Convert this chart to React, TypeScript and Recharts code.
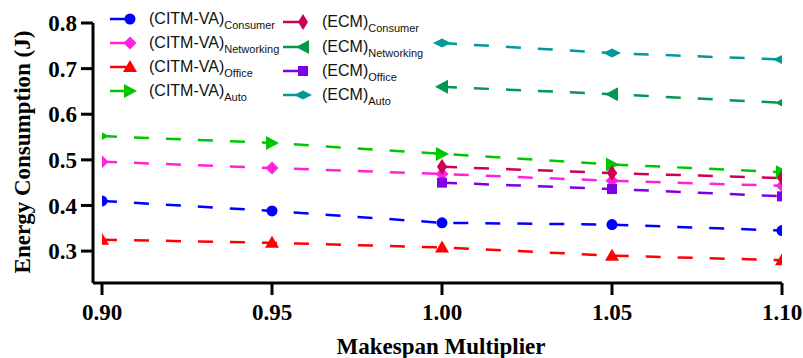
import React from 'react';
import { LineChart, Line, XAxis, YAxis, Legend, Label } from 'recharts';

const multipliers = [0.9, 0.95, 1.0, 1.05, 1.1];
const xTicks = [0.9, 0.95, 1.0, 1.05, 1.1];
const yTicks = [0.3, 0.4, 0.5, 0.6, 0.7, 0.8];

const citmConsumer = [0.41, 0.388, 0.362, 0.358, 0.345];
const citmNetworking = [0.496, 0.482, 0.469, 0.454, 0.443];
const citmOffice = [0.325, 0.318, 0.308, 0.29, 0.28];
const citmAuto = [0.552, 0.537, 0.513, 0.49, 0.473];
const ecmConsumer = [null, null, 0.485, 0.471, 0.46];
const ecmNetworking = [null, null, 0.66, 0.644, 0.625];
const ecmOffice = [null, null, 0.45, 0.436, 0.42];
const ecmAuto = [null, null, 0.756, 0.734, 0.72];

type Shape = 'circle' | 'diamond' | 'triUp' | 'triRight' | 'thinDiamond' | 'triLeft' | 'square' | 'wideDiamond';

interface Series {
  key: string;
  method: string;
  sub: string;
  color: string;
  shape: Shape;
  values: (number | null)[];
}

const series: Series[] = [
  { key: 'citmConsumer', method: '(CITM-VA)', sub: 'Consumer', color: '#0000ff', shape: 'circle', values: citmConsumer },
  { key: 'citmNetworking', method: '(CITM-VA)', sub: 'Networking', color: '#ff22dd', shape: 'diamond', values: citmNetworking },
  { key: 'citmOffice', method: '(CITM-VA)', sub: 'Office', color: '#ff0000', shape: 'triUp', values: citmOffice },
  { key: 'citmAuto', method: '(CITM-VA)', sub: 'Auto', color: '#00c800', shape: 'triRight', values: citmAuto },
  { key: 'ecmConsumer', method: '(ECM)', sub: 'Consumer', color: '#cc0055', shape: 'thinDiamond', values: ecmConsumer },
  { key: 'ecmNetworking', method: '(ECM)', sub: 'Networking', color: '#009950', shape: 'triLeft', values: ecmNetworking },
  { key: 'ecmOffice', method: '(ECM)', sub: 'Office', color: '#7f00e6', shape: 'square', values: ecmOffice },
  { key: 'ecmAuto', method: '(ECM)', sub: 'Auto', color: '#009999', shape: 'wideDiamond', values: ecmAuto },
];

const chartData = multipliers.map((m, i) => {
  const row: Record<string, number | null> = { x: m };
  series.forEach((s) => {
    row[s.key] = s.values[i];
  });
  return row;
});

function marker(shape: Shape, cx: number, cy: number, color: string, key?: string) {
  const pts = (arr: number[][]) => arr.map((p) => `${cx + p[0]},${cy + p[1]}`).join(' ');
  switch (shape) {
    case 'circle':
      return <circle key={key} cx={cx} cy={cy} r={5.5} fill={color} />;
    case 'diamond':
      return <polygon key={key} points={pts([[0, -6.5], [6.5, 0], [0, 6.5], [-6.5, 0]])} fill={color} />;
    case 'triUp':
      return <polygon key={key} points={pts([[0, -7], [7, 5], [-7, 5]])} fill={color} />;
    case 'triRight':
      return <polygon key={key} points={pts([[-6, -7], [7, 0], [-6, 7]])} fill={color} />;
    case 'thinDiamond':
      return <polygon key={key} points={pts([[0, -8], [5, 0], [0, 8], [-5, 0]])} fill={color} />;
    case 'triLeft':
      return <polygon key={key} points={pts([[6, -7], [-7, 0], [6, 7]])} fill={color} />;
    case 'square':
      return <rect key={key} x={cx - 5} y={cy - 5} width={10} height={10} fill={color} />;
    case 'wideDiamond':
      return <polygon key={key} points={pts([[-9, 0], [0, -4.5], [9, 0], [0, 4.5]])} fill={color} />;
  }
}

const legendFont = '"Liberation Sans", Arial, sans-serif';

function LegendItem({ s, x, y }: { s: Series; x: number; y: number }) {
  return (
    <div style={{ position: 'absolute', left: x, top: y - 12, height: 24, display: 'flex', alignItems: 'center', whiteSpace: 'nowrap' }}>
      <svg width={30} height={24} style={{ display: 'block' }}>
        <line x1={0} y1={12} x2={20} y2={12} stroke={s.color} strokeWidth={2.5} />
        {marker(s.shape, 20, 12, s.color)}
      </svg>
      <span style={{ marginLeft: 9, fontFamily: legendFont, fontSize: 16, color: '#111', lineHeight: '18px' }}>
        {s.method}
        <span style={{ fontSize: 11, position: 'relative', top: 5 }}>{s.sub}</span>
      </span>
    </div>
  );
}

function renderLegend() {
  const col1 = [19, 43, 67, 91];
  const col2 = [22, 47, 71, 95];
  return (
    <div style={{ position: 'relative', width: 360, height: 110 }}>
      {series.slice(0, 4).map((s, i) => (
        <LegendItem key={s.key} s={s} x={110} y={col1[i]} />
      ))}
      {series.slice(4).map((s, i) => (
        <LegendItem key={s.key} s={s} x={283} y={col2[i]} />
      ))}
    </div>
  );
}

const tickFont = { fontFamily: '"Liberation Serif", "Times New Roman", serif', fontWeight: 700, fontSize: 23, fill: '#000' };

export default function App() {
  return (
    <div style={{ position: 'absolute', left: 0, top: 0, background: '#fff' }}>
      <LineChart width={803} height={358} data={chartData} margin={{ top: 23, right: 21, bottom: 0, left: 0 }}>
        <XAxis
          dataKey="x"
          type="number"
          domain={[0.9, 1.1]}
          ticks={xTicks}
          tickFormatter={(v: number) => v.toFixed(2)}
          padding={{ left: 9, right: 0 }}
          height={75}
          tickSize={12}
          tickMargin={9}
          axisLine={{ stroke: '#000', strokeWidth: 3 }}
          tickLine={{ stroke: '#000', strokeWidth: 3 }}
          tick={tickFont}
          allowDataOverflow
        >
          <Label
            content={() => (
              <text x={441} y={354} textAnchor="middle" style={tickFont}>
                Makespan Multiplier
              </text>
            )}
          />
        </XAxis>
        <YAxis
          type="number"
          domain={[0.23, 0.8]}
          ticks={yTicks}
          tickFormatter={(v: number) => v.toFixed(1)}
          width={93}
          tickSize={12}
          tickMargin={4}
          axisLine={{ stroke: '#000', strokeWidth: 3 }}
          tickLine={{ stroke: '#000', strokeWidth: 3 }}
          tick={tickFont}
          allowDataOverflow
        >
          <Label
            content={() => (
              <text x={30} y={152} textAnchor="middle" transform="rotate(-90 30 152)" style={tickFont}>
                Energy Consumption (J)
              </text>
            )}
          />
        </YAxis>
        <Legend
          content={renderLegend}
          layout="vertical"
          align="center"
          verticalAlign="middle"
          wrapperStyle={{ top: 0, left: 0, width: 360, height: 110 }}
        />
        {series.map((s) => (
          <Line
            key={s.key}
            dataKey={s.key}
            type="linear"
            stroke={s.color}
            strokeWidth={2.5}
            strokeDasharray="15 17"
            isAnimationActive={false}
            dot={(p: any) => {
              if (p.cx == null || p.cy == null || p.value == null) return <g key={`${s.key}-${p.index}`} />;
              return marker(s.shape, p.cx, p.cy, s.color, `${s.key}-${p.index}`) as React.ReactElement;
            }}
            activeDot={false}
          />
        ))}
      </LineChart>
    </div>
  );
}
